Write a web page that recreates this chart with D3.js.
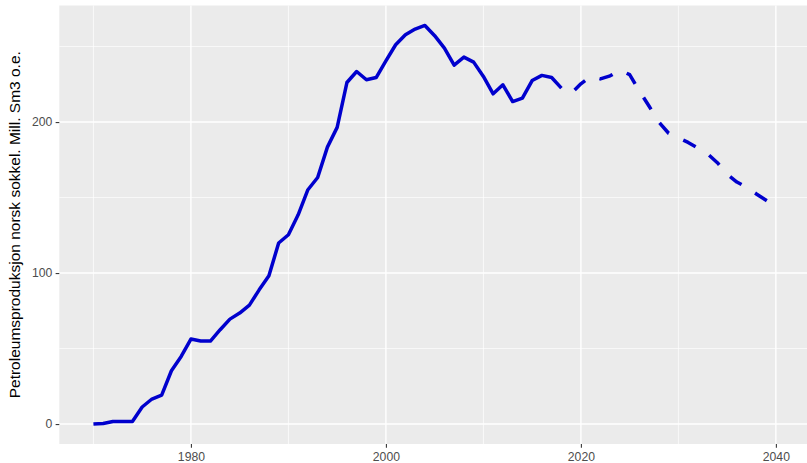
<!DOCTYPE html>
<html>
<head>
<meta charset="utf-8">
<script src="https://cdn.jsdelivr.net/npm/d3@7"></script>
<style>
  body { margin: 0; background: #fff; }
  svg { display: block; }
</style>
</head>
<body>
<svg id="chart" width="807" height="463"></svg>
<script>
// Historical production (solid line)
const histYears = [1970, 1971, 1972, 1973, 1974, 1975, 1976, 1977, 1978, 1979,
                   1980, 1981, 1982, 1983, 1984, 1985, 1986, 1987, 1988, 1989,
                   1990, 1991, 1992, 1993, 1994, 1995, 1996, 1997, 1998, 1999,
                   2000, 2001, 2002, 2003, 2004, 2005, 2006, 2007, 2008, 2009,
                   2010, 2011, 2012, 2013, 2014, 2015, 2016, 2017, 2018];
const histValues = [0, 0.4, 1.7, 1.7, 1.7, 11.3, 16.6, 19.2, 35.3, 44.8,
                    56.3, 55.0, 55.0, 62.5, 69.5, 73.5, 78.8, 88.9, 98.2, 119.9,
                    125.4, 138.6, 155.2, 163.3, 183.4, 196.5, 226.2, 233.5, 228.0, 229.5,
                    240.6, 251.2, 257.8, 261.6, 264.0, 257.2, 249.0, 237.7, 243.0, 239.7,
                    230.2, 218.7, 224.7, 213.6, 215.9, 227.5, 230.9, 229.5, 222.5];

// Forecast (dashed line)
const progYears = [2018, 2019, 2020, 2021, 2022, 2023, 2024, 2025, 2026, 2027,
                   2028, 2029, 2030, 2031, 2032, 2033, 2034, 2035, 2036, 2037,
                   2038, 2039, 2040];
const progValues = [222.5, 219.0, 225.3, 230.2, 228.6, 230.6, 234.4, 231.4, 220.6, 210.5,
                    200.0, 192.6, 189.5, 186.5, 182.8, 179.0, 173.1, 165.5, 160.3, 156.8,
                    152.4, 148.2, 144.0];

const xTicks = [1980, 2000, 2020, 2040];
const xMinorTicks = [1970, 1990, 2010, 2030];
const yTicks = [0, 100, 200];
const yMinorTicks = [50, 150, 250];
const yTitle = "Petroleumsproduksjon norsk sokkel. Mill. Sm3 o.e.";

const panel = { left: 59.3, top: 5.5, right: 810, bottom: 444 };

const svg = d3.select("#chart");

// ggplot-like 5% expansion of the data range
function expand(ext) {
    const pad = (ext[1] - ext[0]) * 0.05;
    return [ext[0] - pad, ext[1] + pad];
}

const allYears = histYears.concat(progYears);
const allValues = histValues.concat(progValues);

const x = d3.scaleLinear()
    .domain(expand(d3.extent(allYears)))
    .range([panel.left, panel.right]);

const y = d3.scaleLinear()
    .domain(expand(d3.extent(allValues)))
    .range([panel.bottom, panel.top]);

// Panel background
svg.append("rect")
    .attr("x", panel.left)
    .attr("y", panel.top)
    .attr("width", panel.right - panel.left)
    .attr("height", panel.bottom - panel.top)
    .attr("fill", "#ebebeb");

const grid = svg.append("g");

// Minor grid
grid.selectAll(".xminor")
    .data(xMinorTicks)
    .enter().append("line")
    .attr("x1", d => x(d)).attr("x2", d => x(d))
    .attr("y1", panel.top).attr("y2", panel.bottom)
    .attr("stroke", "#fff").attr("stroke-width", 0.7);

grid.selectAll(".yminor")
    .data(yMinorTicks)
    .enter().append("line")
    .attr("y1", d => y(d)).attr("y2", d => y(d))
    .attr("x1", panel.left).attr("x2", panel.right)
    .attr("stroke", "#fff").attr("stroke-width", 0.7);

// Major grid
grid.selectAll(".xmajor")
    .data(xTicks)
    .enter().append("line")
    .attr("x1", d => x(d)).attr("x2", d => x(d))
    .attr("y1", panel.top).attr("y2", panel.bottom)
    .attr("stroke", "#fff").attr("stroke-width", 1.4);

grid.selectAll(".ymajor")
    .data(yTicks)
    .enter().append("line")
    .attr("y1", d => y(d)).attr("y2", d => y(d))
    .attr("x1", panel.left).attr("x2", panel.right)
    .attr("stroke", "#fff").attr("stroke-width", 1.4);

// Lines
const line = d3.line()
    .x(d => x(d[0]))
    .y(d => y(d[1]));

svg.append("path")
    .datum(histYears.map((yr, i) => [yr, histValues[i]]))
    .attr("d", line)
    .attr("fill", "none")
    .attr("stroke", "#0000cd")
    .attr("stroke-width", 3.5)
    .attr("stroke-linejoin", "round")
    .attr("stroke-linecap", "butt");

svg.append("path")
    .datum(progYears.map((yr, i) => [yr, progValues[i]]))
    .attr("d", line)
    .attr("fill", "none")
    .attr("stroke", "#0000cd")
    .attr("stroke-width", 3.5)
    .attr("stroke-dasharray", "14,16")
    .attr("stroke-dashoffset", 14)
    .attr("stroke-linejoin", "round")
    .attr("stroke-linecap", "butt");

// Axes
const xAxis = svg.append("g")
    .attr("transform", `translate(0,${panel.bottom})`)
    .call(d3.axisBottom(x).tickValues(xTicks).tickSize(3.67).tickPadding(4.6).tickFormat(d3.format("d")));

const yAxis = svg.append("g")
    .attr("transform", `translate(${panel.left},0)`)
    .call(d3.axisLeft(y).tickValues(yTicks).tickSize(3.67).tickPadding(3.3));

[xAxis, yAxis].forEach(a => {
    a.select(".domain").remove();
    a.selectAll(".tick line").attr("stroke", "#333333").attr("stroke-width", 1.07);
    a.selectAll(".tick text")
        .attr("fill", "#4d4d4d")
        .style("font-family", "'Liberation Sans', Arial, sans-serif")
        .style("font-size", "12.2px");
});

// Y axis title
svg.append("text")
    .attr("transform", `translate(19.6,${(panel.top + panel.bottom) / 2}) rotate(-90)`)
    .attr("text-anchor", "middle")
    .style("font-family", "'Liberation Sans', Arial, sans-serif")
    .style("font-size", "15.5px")
    .attr("fill", "#000")
    .text(yTitle);
</script>
</body>
</html>
